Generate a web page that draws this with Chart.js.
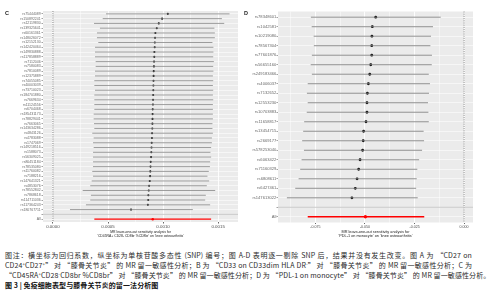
<!DOCTYPE html>
<html>
<head>
<meta charset="utf-8">
<script src="https://cdn.jsdelivr.net/npm/chart.js@4.4.1/dist/chart.umd.min.js"></script>
<style>
  body { margin: 0; width: 504px; height: 300px; background: #fff; position: relative; overflow: hidden; }
  canvas { position: absolute; top: 0; }
  #chartC { left: 0; }
  #chartD { left: 244px; }
  .tag { position: absolute; font: bold 5.5px "Liberation Sans", Arial, sans-serif; color: #222; line-height: 6px; }
  .cap { position: absolute; left: 5px; font-family: "Noto Sans CJK SC", sans-serif; font-size: 7px; line-height: 10px;
         color: #2b2b2b; white-space: nowrap; letter-spacing: 0.1px; }
  .just { width: 467px; text-align: justify; text-align-last: justify; }
  .cap sup { font-size: 4.5px; vertical-align: 2.5px; line-height: 0; }
</style>
</head>
<body>
<canvas id="chartC" width="244" height="242"></canvas>
<canvas id="chartD" width="260" height="242"></canvas>
<div class="tag" style="left:5px;top:10px">C</div>
<div class="tag" style="left:244px;top:10px">D</div>

<div class="cap just" style="top:250.3px">图注：横坐标为回归系数，纵坐标为单核苷酸多态性 (SNP) 编号；图 A-D 表明逐一剔除 SNP 后，结果并没有发生改变。图 A 为 “CD27 on</div>
<div class="cap just" style="top:260.3px">CD24<sup>+</sup>CD27<sup>+</sup>” 对 “膝骨关节炎” 的 MR 留一敏感性分析；B 为 “CD33 on CD33dim HLA DR<sup>-</sup>” 对 “膝骨关节炎” 的 MR 留一敏感性分析；C 为</div>
<div class="cap" style="top:270.3px">“CD45RA<sup>+</sup>CD28<sup>-</sup>CD8br %CD8br” 对 “膝骨关节炎” 的 MR 留一敏感性分析；D 为 “PDL-1 on monocyte” 对 “膝骨关节炎” 的 MR 留一敏感性分析。</div>
<div class="cap" style="top:280.3px;font-weight:bold;color:#111">图 3 | 免疫细胞表型与膝骨关节炎的留一法分析图</div>

<script>
// panel C: CD45RA+ CD28- CD8br %CD8br -> knee osteoarthritis
const cSnps = ['rs75444089', 'rs150892241', 'rs12119830', 'rs139325641', 'rs60161361', 'rs148026072', 'rs12152130',
  'rs142420464', 'rs149830888', 'rs117858889', 'rs7112046', 'rs7580083', 'rs7810089', 'rs12375889', 'rs74055085',
  'rs40003039', 'rs73710023', 'rs184701880', 'rs7669634', 'rs11124556', 'rs6704468', 'rs185431173', 'rs78829441',
  'rs7663065', 'rs143634286', 'rs4843126', 'rs4783088', 'rs1747069', 'rs149218516', 'rs1588073', 'rs56309025',
  'rs80451184', 'rs78535080', 'rs11760082', 'rs7188216', 'rs147641321', 'rs4853076', 'rs78552842', 'rs7868618',
  'rs114711036', 'rs117364243', 'rs180767711'];
const cBeta = [0.001043, 0.000991, 0.000961, 0.000943, 0.000930, 0.000927, 0.000925, 0.000924, 0.000921, 0.000920,
  0.000918, 0.000917, 0.000915, 0.000914, 0.000913, 0.000912, 0.000911, 0.000910, 0.000909, 0.000908, 0.000906,
  0.000905, 0.000904, 0.000903, 0.000902, 0.000900, 0.000899, 0.000897, 0.000895, 0.000893, 0.000891, 0.000888,
  0.000886, 0.000884, 0.000882, 0.000879, 0.000873, 0.000870, 0.000866, 0.000865, 0.000862, 0.000709];
const cLower = [0.000482, 0.000452, 0.000373, 0.000427, 0.000400, 0.000400, 0.000412, 0.000382, 0.000382, 0.000382,
  0.000388, 0.000388, 0.000382, 0.000382, 0.000376, 0.000376, 0.000382, 0.000376, 0.000376, 0.000376, 0.000376,
  0.000370, 0.000370, 0.000373, 0.000376, 0.000357, 0.000370, 0.000364, 0.000370, 0.000364, 0.000364, 0.000364,
  0.000364, 0.000357, 0.000364, 0.000352, 0.000339, 0.000270, 0.000345, 0.000339, 0.000300, 0.000155];
const cUpper = [0.001603, 0.001534, 0.001555, 0.001466, 0.001470, 0.001470, 0.001448, 0.001457, 0.001457, 0.001455,
  0.001461, 0.001455, 0.001457, 0.001452, 0.001455, 0.001452, 0.001455, 0.001452, 0.001455, 0.001452, 0.001452,
  0.001452, 0.001452, 0.001448, 0.001448, 0.001452, 0.001443, 0.001443, 0.001436, 0.001430, 0.001436, 0.001427,
  0.001425, 0.001415, 0.001403, 0.001418, 0.001397, 0.001473, 0.001388, 0.001382, 0.001427, 0.001270];
const cAll = [0.000376, 0.000906, 0.001436]; // lower, beta, upper
const cMajorTicks = [0, 0.0005, 0.0010, 0.0015];
const cMinorTicks = [0.00025, 0.00075, 0.00125];

// panel D: PDL-1 on monocyte -> knee osteoarthritis
const dSnps = ['rs78348601', 'rs1042581', 'rs10219080', 'rs78567304', 'rs77601876', 'rs56655160', 'rs249183466',
  'rs4006037', 'rs7132652', 'rs12553230', 'rs10703883', 'rs11658817', 'rs13454715', 'rs2669177', 'rs578253040',
  'rs6063422', 'rs71160329', 'rs6808611', 'rs6427461', 'rs147613022'];
const dBeta = [-0.0446, -0.0463, -0.0465, -0.0466, -0.0466, -0.0471, -0.0476, -0.0483, -0.0488, -0.0490,
  -0.0490, -0.0495, -0.0507, -0.0509, -0.0512, -0.0525, -0.0532, -0.0540, -0.0549, -0.0566];
const dLower = [-0.0773, -0.0769, -0.0759, -0.0758, -0.0768, -0.0774, -0.0768, -0.0789, -0.0793, -0.0789,
  -0.0794, -0.0807, -0.0812, -0.0817, -0.0808, -0.0820, -0.0827, -0.0835, -0.0852, -0.0894];
const dUpper = [-0.0118, -0.0157, -0.0167, -0.0170, -0.0162, -0.0163, -0.0178, -0.0172, -0.0177, -0.0182,
  -0.0180, -0.0178, -0.0204, -0.0202, -0.0212, -0.0227, -0.0236, -0.0239, -0.0242, -0.0234];
const dAll = [-0.0789, -0.0498, -0.0201];
const dMajorTicks = [-0.075, -0.050, -0.025, 0];
const dMinorTicks = [-0.0875, -0.0625, -0.0375, -0.0125];

const font = '"Liberation Sans", Arial, sans-serif';

function forest(id, o) {
  const rows = o.snps.concat(['', 'All']);
  const blank = rows.length - 2, all = rows.length - 1;

  // CI segments, broken by null points
  const ci = [];
  o.snps.forEach((s, i) => { ci.push({x: o.lower[i], y: i}, {x: o.upper[i], y: i}, {x: null, y: null}); });

  const panel = {
    id: 'panel',
    beforeDraw(chart) {
      const a = chart.chartArea, ctx = chart.ctx;
      ctx.save();
      ctx.fillStyle = '#ebebeb';
      ctx.fillRect(a.left, a.top, a.right - a.left, a.bottom - a.top);
      ctx.restore();
    },
    beforeDatasetsDraw(chart) {
      // dotted line at 0
      const a = chart.chartArea, ctx = chart.ctx, x = chart.scales.x.getPixelForValue(0);
      ctx.save();
      ctx.strokeStyle = '#555';
      ctx.lineWidth = 0.7;
      ctx.setLineDash([1, 1.2]);
      ctx.beginPath(); ctx.moveTo(x, a.top); ctx.lineTo(x, a.bottom); ctx.stroke();
      ctx.restore();
    },
    afterDatasetsDraw(chart) {
      // grey line on the empty row
      const a = chart.chartArea, ctx = chart.ctx, y = chart.scales.y.getPixelForValue(blank);
      ctx.save();
      ctx.strokeStyle = '#bebebe';
      ctx.lineWidth = 0.8;
      ctx.beginPath(); ctx.moveTo(a.left, y); ctx.lineTo(a.right, y); ctx.stroke();
      ctx.restore();
    }
  };

  const isMajor = v => o.major.includes(v);

  return new Chart(document.getElementById(id), {
    type: 'scatter',
    data: {
      datasets: [
        { data: ci, showLine: true, spanGaps: false, borderColor: '#858585', borderWidth: o.ciWidth, pointRadius: 0 },
        { data: [{x: o.all[0], y: all}, {x: o.all[2], y: all}], showLine: true, borderColor: '#ff0000',
          borderWidth: o.allWidth, pointRadius: 0 },
        { data: o.snps.map((s, i) => ({x: o.beta[i], y: i})), pointRadius: o.dot, pointBorderWidth: 0,
          pointBackgroundColor: '#000' },
        { data: [{x: o.all[1], y: all}], pointRadius: o.dot * 1.2, pointBorderWidth: 0, pointBackgroundColor: '#ff0000' }
      ]
    },
    options: {
      responsive: false,
      animation: false,
      layout: { padding: o.pad },
      plugins: { legend: { display: false }, tooltip: { enabled: false } },
      scales: {
        x: {
          type: 'linear', min: o.xMin, max: o.xMax,
          afterBuildTicks: s => { s.ticks = o.major.concat(o.minor).sort((a, b) => a - b).map(v => ({value: v})); },
          afterFit: s => { s.height = o.xHeight; },
          border: { display: false },
          grid: {
            color: '#ffffff',
            lineWidth: c => isMajor(c.tick.value) ? 0.9 : 0.45,
            tickColor: c => isMajor(c.tick.value) ? '#555' : 'rgba(0,0,0,0)',
            tickLength: 1.5
          },
          ticks: {
            autoSkip: false, maxRotation: 0, padding: o.xTickPad, color: '#4d4d4d',
            font: { family: font, size: o.xTickSize },
            callback: v => isMajor(v) ? v.toFixed(o.dec) : ''
          },
          title: {
            display: true, text: o.title, color: '#222',
            font: { family: font, size: o.titleSize, lineHeight: o.titleLh },
            padding: { top: 0, bottom: o.titlePad }
          }
        },
        y: {
          type: 'linear', reverse: true, min: -0.6, max: rows.length - 0.4,
          afterBuildTicks: s => { s.ticks = rows.map((r, i) => ({value: i})); },
          afterFit: s => { s.width = o.yWidth; },
          border: { display: false },
          grid: { color: '#ffffff', lineWidth: 0.55, tickColor: '#555', tickLength: 1.5 },
          ticks: {
            autoSkip: false, padding: o.yTickPad, color: '#6a6a6a',
            font: { family: font, size: o.yTickSize },
            callback: v => rows[v]
          }
        }
      }
    },
    plugins: [panel]
  });
}

forest('chartC', {
  snps: cSnps, beta: cBeta, lower: cLower, upper: cUpper, all: cAll,
  major: cMajorTicks, minor: cMinorTicks, dec: 4, xMin: -0.00009, xMax: 0.00168,
  pad: { left: 0, top: 11, right: 6, bottom: 0 }, yWidth: 43, xHeight: 20,
  xTickPad: 0.6, xTickSize: 4.4, yTickPad: 0.8, yTickSize: 3.5,
  title: ['MR leave-one-out sensitivity analysis for', "'CD45RA+ CD28- CD8br %CD8br' on 'knee osteoarthritis'"],
  titleSize: 3.4, titleLh: '4px', titlePad: 4.3,
  ciWidth: 0.8, allWidth: 1.4, dot: 1.05
});

forest('chartD', {
  snps: dSnps, beta: dBeta, lower: dLower, upper: dUpper, all: dAll,
  major: dMajorTicks, minor: dMinorTicks, dec: 3, xMin: -0.0939, xMax: 0.0045,
  pad: { left: 0, top: 11.5, right: 31, bottom: 0 }, yWidth: 34, xHeight: 19.5,
  xTickPad: 0.5, xTickSize: 3.6, yTickPad: 0.2, yTickSize: 4.1,
  title: ['MR leave-one-out sensitivity analysis for', "'PDL-1 on monocyte' on 'knee osteoarthritis'"],
  titleSize: 3.8, titleLh: '4.3px', titlePad: 3.85,
  ciWidth: 0.9, allWidth: 1.6, dot: 1.4
});
</script>
</body>
</html>
